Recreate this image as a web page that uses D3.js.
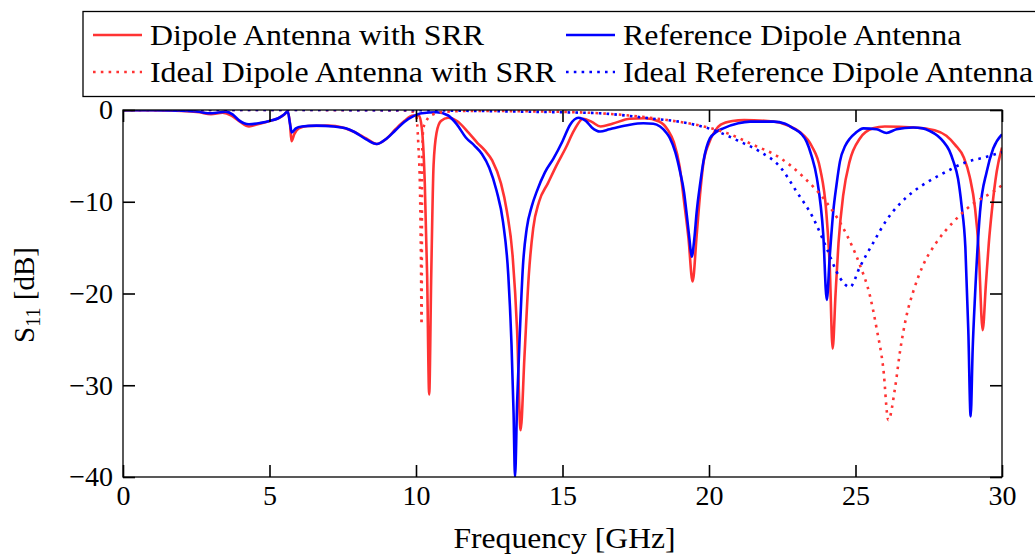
<!DOCTYPE html>
<meta charset="utf-8">
<script src="https://d3js.org/d3.v7.min.js"></script>
<style>
  body { margin: 0; background: #fff; }
  text { font-family: "Liberation Serif", serif; fill: #000; }
</style>
<div id="chart"></div>
<script>

// series 1: dipole antenna with SRR (GHz, dB)
var freqSRR = [0, 1, 2, 2.6, 3.0, 3.4, 3.7, 4.0, 4.3, 4.6, 5.0, 5.3, 5.5, 5.62, 5.7, 5.75, 5.85, 6.0, 6.3, 7.0, 7.5, 7.9, 8.3, 8.65, 9.0, 9.3, 9.6, 9.9,
  10.1, 10.2, 10.3, 10.38, 10.45, 10.52, 10.6, 10.7, 10.85, 11.1, 11.4, 11.8, 12.1, 12.35, 12.6, 12.9, 13.1, 13.3, 13.45, 13.57, 13.7, 13.85,
  14.0, 14.2, 14.5, 14.8, 15.1, 15.4, 15.7, 16.0, 16.3, 16.7, 17.3, 17.8, 18.3, 18.6, 18.8, 19.0, 19.15, 19.3, 19.44, 19.58, 19.7, 19.8,
  20.0, 20.2, 20.4, 20.8, 21.2, 22.2, 22.7, 23.1, 23.5, 23.8, 24.0, 24.12, 24.22, 24.32, 24.42, 24.58, 24.8, 25.15, 25.6, 26.0, 27.0,
  27.7, 28.1, 28.4, 28.7, 28.9, 29.08, 29.2, 29.34, 29.45, 29.55, 29.65, 29.82, 30.0];
var s11SRR = [-0.02, -0.03, -0.1, -0.25, -0.45, -0.3, -0.6, -1.3, -1.8, -1.55, -1.2, -0.9, -0.5, -0.2, -1.5, -3.4, -2.6, -2.0, -1.75, -1.7, -1.9, -2.4, -3.1, -3.7, -3.1, -2.1, -1.2, -0.6,
  -0.6, -2, -8, -18, -31, -18, -6, -2.5, -1.2, -0.85, -1.2, -2.5, -3.6, -4.4, -5.5, -8, -11, -16, -24, -34.9, -27, -18,
  -12.9, -10, -8, -6, -4.2, -2.2, -0.95, -1.3, -1.8, -1.5, -0.95, -0.9, -1.25, -2.2, -3.5, -6.2, -10, -14, -18.7, -13.6, -9, -6,
  -3.6, -2.3, -1.6, -1.2, -1.1, -1.25, -1.7, -2.4, -3.9, -6.5, -11, -17, -26, -20, -14.5, -9.3, -5.6, -3.1, -2.0, -1.8, -1.9,
  -2.2, -2.8, -3.8, -5.2, -7.3, -10.7, -15, -24, -19, -14.5, -11.1, -6.7, -4.1];

// series 2: reference dipole antenna
var freqRef = [0, 1, 2, 2.6, 2.9, 3.2, 3.5, 3.75, 3.95, 4.3, 4.7, 5.0, 5.3, 5.5, 5.62, 5.7, 5.76, 5.9, 6.1, 6.6, 7.2, 7.6, 7.9, 8.3, 8.66, 9.0, 9.3, 9.6, 9.9,
  10.2, 10.7, 11.1, 11.4, 11.7, 12.0, 12.25, 12.5, 12.75, 12.97, 13.15, 13.26, 13.33, 13.38, 13.45, 13.55, 13.65, 13.78, 13.95, 14.12, 14.4, 14.69,
  15.0, 15.26, 15.54, 15.8, 16.0, 16.28, 16.6, 16.85, 17.3, 17.76, 18.1, 18.33, 18.55, 18.67, 18.85, 19.01, 19.15, 19.24, 19.33, 19.41, 19.5, 19.58, 19.7, 19.81,
  20.03, 20.25, 20.49, 21.0, 21.4, 22.2, 22.6, 22.88, 23.15, 23.33, 23.5, 23.68, 23.9, 24.02, 24.12, 24.24, 24.35, 24.47, 24.65, 24.81,
  25.0, 25.27, 25.72, 26.06, 26.4, 26.97, 27.3, 27.54, 27.8, 28.0, 28.2, 28.34, 28.5, 28.62, 28.75, 28.85, 28.93, 29.0, 29.08, 29.25, 29.48, 29.7, 30.0];
var s11Ref = [-0.02, -0.03, -0.08, -0.2, -0.36, -0.3, -0.18, -0.5, -1.1, -1.55, -1.4, -1.2, -0.9, -0.5, -0.15, -1.5, -2.45, -2.0, -1.8, -1.7, -1.8, -2.0, -2.4, -3.2, -3.7, -3.1, -2.2, -1.3, -0.7,
  -0.35, -0.25, -0.6, -1.6, -3.0, -3.9, -4.8, -6.3, -8.8, -12.2, -18, -25.6, -33, -40, -32, -23.8, -17, -12.9, -10.5, -8.9, -6.8, -5.3,
  -3.4, -1.6, -0.84, -1.2, -1.9, -2.35, -2.1, -1.9, -1.6, -1.45, -1.5, -1.8, -2.5, -3.1, -4.6, -6.7, -9, -11.4, -14, -16.0, -14, -11.1, -8, -5.6,
  -3.1, -2.4, -2.0, -1.45, -1.27, -1.27, -1.5, -2.0, -2.6, -3.45, -5, -7.4, -13.6, -20.7, -16, -11.1, -8.2, -5.6, -3.9, -3.1,
  -2.5, -2.0, -2.1, -2.5, -2.1, -1.9, -2.0, -2.3, -2.8, -3.45, -4.4, -5.6, -7.5, -10.4, -15, -24, -33.4, -26, -20.2, -11.1, -6.7, -4.2, -2.65];

// series 3: ideal dipole antenna with SRR
var freqIdealSRR = [0, 5, 9.5, 9.9, 10.0, 10.08, 10.14, 10.17, 10.19, 10.21, 10.25, 10.35, 10.5, 11, 12, 14, 15, 16.28, 17.3, 18.56, 19.69, 20.6, 21.51, 22.42,
  23.22, 24.02, 24.7, 25.15, 25.49, 25.72, 25.95, 26.12, 26.35, 26.52, 26.75, 26.97, 27.31, 27.77, 28.34, 29.02, 29.7, 30];
var s11IdealSRR = [0, 0, -0.05, -0.2, -0.5, -3.8, -9.3, -16.5, -23.4, -5, -2, -1.2, -0.6, -0.2, -0.1, -0.15, -0.2, -0.36, -0.6, -1.09, -1.7, -2.5, -3.8, -5.2,
  -7.3, -10.1, -13.6, -16.9, -20.2, -23.8, -28.2, -33.8, -30.3, -26.3, -22.3, -19.8, -16.9, -14.4, -12.2, -10.2, -8.9, -8.2];

// series 4: ideal reference dipole antenna
var freqIdealRef = [0, 5, 10, 12, 14, 15, 16.28, 17.99, 19.12, 20.15, 21.06, 21.74, 22.42, 22.99, 23.56, 24.02, 24.47, 24.81, 25.15, 25.6, 26.06, 26.52,
  26.97, 27.43, 28.11, 28.68, 29.48, 30];
var s11IdealRef = [0, 0, -0.03, -0.1, -0.2, -0.25, -0.36, -0.91, -1.35, -2.18, -3.45, -4.54, -6.18, -8.9, -11.8, -15.1, -18.3, -19.3, -17.1, -14.5, -12.0, -10.2,
  -8.9, -7.9, -6.7, -5.8, -5.1, -4.6];

var seriesNames = ["Dipole Antenna with SRR", "Reference Dipole Antenna", "Ideal Dipole Antenna with SRR", "Ideal Reference Dipole Antenna"];
var xTicks = [0, 5, 10, 15, 20, 25, 30];
var yTicks = [0, -10, -20, -30, -40];

var W = 1035, H = 555;
var plot = {left: 123, right: 1002, top: 110, bottom: 477};
var red = "#ff3333", blue = "#0000ff";

var series = [
  {name: seriesNames[0], f: freqSRR, v: s11SRR, color: red, dash: null},
  {name: seriesNames[1], f: freqRef, v: s11Ref, color: blue, dash: null},
  {name: seriesNames[2], f: freqIdealSRR, v: s11IdealSRR, color: red, dash: "2.6,5.2"},
  {name: seriesNames[3], f: freqIdealRef, v: s11IdealRef, color: blue, dash: "2.6,5.2"}
];

var svg = d3.select("#chart").append("svg")
  .attr("width", W).attr("height", H);

var x = d3.scaleLinear().domain([0, 30]).range([plot.left, plot.right]);
var y = d3.scaleLinear().domain([-40, 0]).range([plot.bottom, plot.top]);

// stretch serif text a little so it runs as wide as the LaTeX font
function widen(sel, k) {
  sel.each(function() {
    var w = this.getComputedTextLength();
    d3.select(this).attr("textLength", w * k).attr("lengthAdjust", "spacingAndGlyphs");
  });
}

svg.append("clipPath").attr("id", "clip")
  .append("rect")
    .attr("x", plot.left).attr("y", plot.top)
    .attr("width", plot.right - plot.left).attr("height", plot.bottom - plot.top);

// curves
var line = d3.line()
  .x(function(d) { return x(d[0]); })
  .y(function(d) { return y(d[1]); })
  .curve(d3.curveMonotoneX);

svg.append("g").attr("clip-path", "url(#clip)")
  .selectAll("path")
  .data(series)
  .enter().append("path")
    .attr("d", function(s) { return line(d3.zip(s.f, s.v)); })
    .attr("fill", "none")
    .attr("stroke", function(s) { return s.color; })
    .attr("stroke-width", 2.6)
    .attr("stroke-dasharray", function(s) { return s.dash; })
    .attr("stroke-linejoin", "round");

// axes, ticks pointing inwards on all four sides
var tk = 12;
var gx = svg.append("g")
  .attr("transform", "translate(0," + plot.bottom + ")")
  .call(d3.axisBottom(x).tickValues(xTicks).tickSizeInner(-tk).tickSizeOuter(0).tickPadding(8));
var gy = svg.append("g")
  .attr("transform", "translate(" + plot.left + ",0)")
  .call(d3.axisLeft(y).tickValues(yTicks).tickSizeInner(-tk).tickSizeOuter(0).tickPadding(10));
svg.append("g")
  .attr("transform", "translate(0," + plot.top + ")")
  .call(d3.axisTop(x).tickValues(xTicks).tickSizeInner(-tk).tickSizeOuter(0).tickFormat(""));
svg.append("g")
  .attr("transform", "translate(" + plot.right + ",0)")
  .call(d3.axisRight(y).tickValues(yTicks).tickSizeInner(-tk).tickSizeOuter(0).tickFormat(""));

svg.selectAll(".domain").remove();
svg.selectAll(".tick line").attr("stroke", "#000").attr("stroke-width", 1.6);
svg.selectAll(".tick text")
  .style("font-family", "Liberation Serif")
  .style("font-size", "28px");

svg.append("rect")
  .attr("x", plot.left).attr("y", plot.top)
  .attr("width", plot.right - plot.left).attr("height", plot.bottom - plot.top)
  .attr("fill", "none").attr("stroke", "#000").attr("stroke-width", 1.3);

// axis labels
svg.append("text")
  .attr("x", (plot.left + plot.right) / 2 + 2).attr("y", 548)
  .attr("text-anchor", "middle")
  .style("font-size", "29px")
  .text("Frequency [GHz]")
  .call(widen, 1.09);

var yl = svg.append("text")
  .attr("transform", "translate(34,295) rotate(-90)")
  .attr("text-anchor", "middle")
  .style("font-size", "29px");
yl.append("tspan").text("S");
yl.append("tspan").attr("dy", 6).style("font-size", "20px").text("11");
yl.append("tspan").attr("dy", -6).text(" [dB]");

// legend
var leg = svg.append("g");
leg.append("rect")
  .attr("x", 83).attr("y", 11.5).attr("width", 1000).attr("height", 85)
  .attr("fill", "#fff").attr("stroke", "#000").attr("stroke-width", 1.3);

var colX = [93, 566], rowY = [35, 72];
var items = leg.selectAll("g.item")
  .data(series)
  .enter().append("g")
    .attr("class", "item")
    .attr("transform", function(d, i) { return "translate(" + colX[i % 2] + "," + rowY[Math.floor(i / 2)] + ")"; });

items.append("line")
  .attr("x1", 0).attr("x2", 49)
  .attr("stroke", function(d) { return d.color; })
  .attr("stroke-width", 2.6)
  .attr("stroke-dasharray", function(d) { return d.dash; });

items.append("text")
  .attr("x", 57).attr("y", 10)
  .style("font-size", "29px")
  .text(function(d) { return d.name; })
  .call(widen, 1.1);

</script>
